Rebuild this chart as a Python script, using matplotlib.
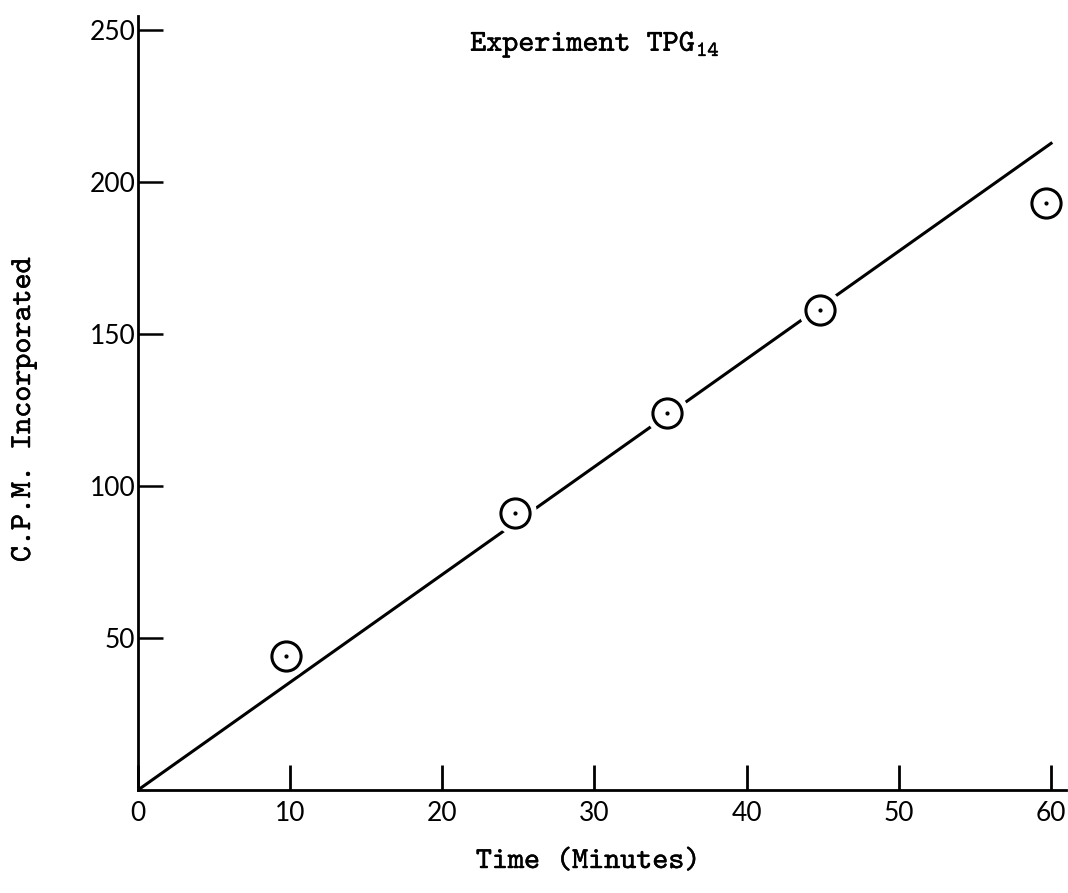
import matplotlib.pyplot as plt
import matplotlib.patheffects as pe

plt.rcParams["mathtext.fontset"] = "custom"
plt.rcParams["mathtext.rm"] = "cmtt10"
plt.rcParams["mathtext.it"] = "cmtt10"

# dados (pontos marcados a mao, um pouco a esquerda das marcas)
tempo = [9.7, 24.8, 34.8, 44.8, 59.7]
cpm = [44, 91, 124, 158, 193]

# reta ajustada (inicio e fim)
reta_x = [0, 60.1]
reta_y = [0, 213]

xticks = [0, 10, 20, 30, 40, 50, 60]
yticks = [50, 100, 150, 200, 250]

fig = plt.figure(figsize=(10.68, 8.93), dpi=100)
ax = fig.add_axes([138 / 1068, 1 - 790 / 893, (1066 - 138) / 1068, (790 - 16) / 893])

ax.plot(reta_x, reta_y, color="black", lw=2.2, zorder=2, solid_capstyle="butt")
# halo branco para cortar a reta perto dos circulos
ax.plot(tempo, cpm, "o", ms=30, mfc="white", mec="white", zorder=3)
ax.plot(tempo, cpm, "o", ms=21, mfc="white", mec="black", mew=2.2, zorder=4)
ax.plot(tempo, cpm, "o", ms=2, color="black", zorder=5)

ax.set_xlim(0, 61)
ax.set_ylim(0, 254.6)

for s in ["top", "right"]:
    ax.spines[s].set_visible(False)
for s in ["left", "bottom"]:
    ax.spines[s].set_linewidth(2)

fonte_num = {"family": "Lato", "size": 19}
ax.set_xticks(xticks)
ax.set_yticks(yticks)
ax.set_xticklabels([str(t) for t in xticks], fontdict=fonte_num)
ax.set_yticklabels([str(t) for t in yticks], fontdict=fonte_num)
ax.tick_params(axis="x", direction="in", length=18, width=2, pad=8)
ax.tick_params(axis="y", direction="in", length=18, width=1.8, pad=2)

# fonte de maquina de escrever (cmtt10 vem com o matplotlib), levemente engrossada
fonte_txt = {"family": "cmtt10", "size": 22}
grosso = [pe.withStroke(linewidth=0.3, foreground="black")]
fig.text(595 / 1068, 1 - 45 / 893, r"Experiment TPG$_{14}$", ha="center", va="center",
         fontdict=fonte_txt, path_effects=grosso)
fig.text(588 / 1068, 1 - 862 / 893, "Time (Minutes)", ha="center", va="center",
         fontdict=fonte_txt, path_effects=grosso)
fig.text(24 / 1068, 1 - 410 / 893, "C.P.M. Incorporated", ha="center", va="center",
         rotation=90, fontdict=fonte_txt, path_effects=grosso)

plt.savefig("out.png", dpi=100)
